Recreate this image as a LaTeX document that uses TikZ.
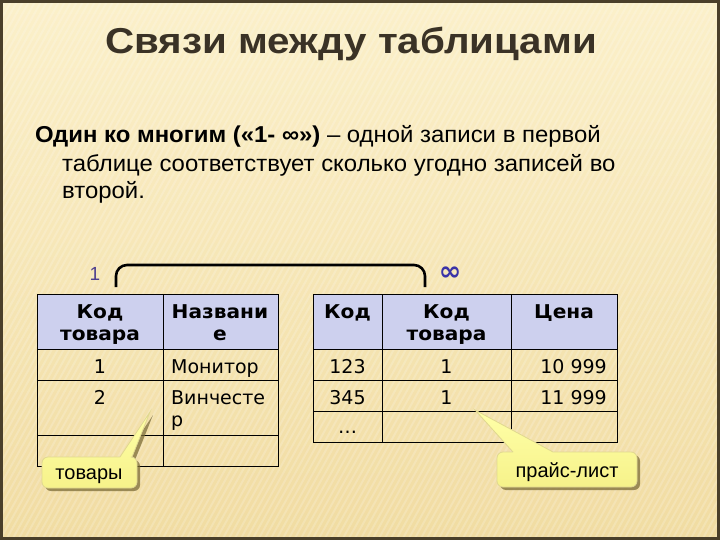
\documentclass[tikz,border=0pt]{standalone}
\usepackage{fontspec}
\setmainfont{Liberation Sans}
\newfontfamily\verd{DejaVu Sans}
\newfontfamily\verdb[FakeStretch=1.06]{DejaVu Sans Bold}
\newfontfamily\titlefont[FakeStretch=1.12]{Liberation Sans Bold}
\newfontfamily\bodyfont[FakeStretch=1.04]{Liberation Sans}
\usetikzlibrary{shadows}
\definecolor{bgtop}{HTML}{FBF0CA}
\definecolor{bgbot}{HTML}{F1DCA2}
\definecolor{frame}{HTML}{4A3F2A}
\definecolor{titlec}{HTML}{3A3226}
\definecolor{hdr}{HTML}{CDD0EE}
\definecolor{callt}{HTML}{FFFFA8}
\definecolor{callb}{HTML}{F6F28A}
\definecolor{callline}{HTML}{E0D890}
\definecolor{callshadow}{HTML}{7D6D38}
\definecolor{onec}{HTML}{4E3F8F}
\definecolor{infc}{HTML}{3A33A8}
\begin{document}
\begin{tikzpicture}[x=1pt,y=-1pt,
  cell/.style={draw=black,line width=1.2pt,inner sep=0pt,anchor=north west},
  hcell/.style={cell,fill=hdr},
  tx/.style={inner sep=0pt,anchor=base,font=\verd\fontsize{19}{22}\selectfont},
  txb/.style={tx,font=\verdb\fontsize{19}{22}\selectfont},
  bodytext/.style={anchor=base west,inner sep=0pt,font=\bodyfont\fontsize{23}{28}\selectfont},
  callout/.style={draw=callline,line width=0.8pt,top color=callt,bottom color=callb,
     drop shadow={shadow xshift=3pt,shadow yshift=-3pt,opacity=0.75,fill=callshadow}},
  calltext/.style={inner sep=0pt,anchor=base,font=\fontsize{20}{24}\selectfont}]
\useasboundingbox (0,0) rectangle (720,540);
\shade[top color=bgtop,bottom color=bgbot] (0,0) rectangle (720,540);
\begin{scope}
\clip (0,0) rectangle (720,540);
\foreach \i in {-300,-294,...,720} {
  \draw[white,opacity=0.18,line width=2pt] (\i,540) -- (\i+300,0);
}
\end{scope}
\draw[frame,line width=3pt] (1.5,1.5) rectangle (718.5,538.5);
% title
\node[anchor=base,inner sep=0pt,text=titlec,font=\titlefont\fontsize{36}{40}\selectfont] (title) at (351,54) {Связи между таблицами};
% body
\node[bodytext] (l1) at (35,143) {\textbf{Один ко многим («1- ∞»)} – одной записи в первой};
\node[bodytext] (l2) at (62,172) {таблице соответствует сколько угодно записей во};
\node[bodytext] (l3) at (62,199) {второй.};
% table 1
\node[hcell,minimum width=126,minimum height=55] (a1) at (37,294) {};
\node[hcell,minimum width=115,minimum height=55] (a2) at (163,294) {};
\node[cell,minimum width=126,minimum height=31] (b1) at (37,349) {};
\node[cell,minimum width=115,minimum height=31] (b2) at (163,349) {};
\node[cell,minimum width=126,minimum height=55] (c1) at (37,380) {};
\node[cell,minimum width=115,minimum height=55] (c2) at (163,380) {};
\node[cell,minimum width=126,minimum height=31] (d1) at (37,435) {};
\node[cell,minimum width=115,minimum height=31] (d2) at (163,435) {};
\node[txb] (ta1) at (100,318) {Код};
\node[txb] (ta1b) at (100,340) {товара};
\node[txb] (ta2) at (220,318) {Названи};
\node[txb] (ta2b) at (220,340) {е};
\node[tx] (tb1) at (100,373) {1};
\node[tx,anchor=base west] (tb2) at (171,373) {Монитор};
\node[tx] (tc1) at (100,404) {2};
\node[tx,anchor=base west] (tc2) at (171,404) {Винчесте};
\node[tx,anchor=base west] (tc2b) at (171,426) {р};
% table 2
\node[hcell,minimum width=69,minimum height=55] (e1) at (313,294) {};
\node[hcell,minimum width=129,minimum height=55] (e2) at (382,294) {};
\node[hcell,minimum width=106,minimum height=55] (e3) at (511,294) {};
\node[cell,minimum width=69,minimum height=31] (f1) at (313,349) {};
\node[cell,minimum width=129,minimum height=31] (f2) at (382,349) {};
\node[cell,minimum width=106,minimum height=31] (f3) at (511,349) {};
\node[cell,minimum width=69,minimum height=31] (g1) at (313,380) {};
\node[cell,minimum width=129,minimum height=31] (g2) at (382,380) {};
\node[cell,minimum width=106,minimum height=31] (g3) at (511,380) {};
\node[cell,minimum width=69,minimum height=31] (h1) at (313,411) {};
\node[cell,minimum width=129,minimum height=31] (h2) at (382,411) {};
\node[cell,minimum width=106,minimum height=31] (h3) at (511,411) {};
\node[txb] (te1) at (347.5,318) {Код};
\node[txb] (te2) at (446.5,318) {Код};
\node[txb] (te2b) at (446.5,340) {товара};
\node[txb] (te3) at (564,318) {Цена};
\node[tx] (tf1) at (347.5,373) {123};
\node[tx] (tf2) at (446.5,373) {1};
\node[tx,anchor=base east] (tf3) at (607,373) {10 999};
\node[tx] (tg1) at (347.5,404) {345};
\node[tx] (tg2) at (446.5,404) {1};
\node[tx,anchor=base east] (tg3) at (607,404) {11 999};
\node[tx] (th1) at (347.5,433) {…};
% bracket
\coordinate (bl) at (116,287);
\coordinate (br) at (425,287);
\draw[line width=2.6pt,rounded corners=11] (bl) -- (116,265) -- (425,265) -- (br);
\node[inner sep=0pt,text=onec,font=\fontsize{19}{22}\selectfont] (one) at (95,274) {1};
\node[inner sep=0pt,text=infc,font=\verd\bfseries\fontsize{27}{30}\selectfont] (inf) at (450,274) {∞};
% callouts
\path[callout] (120,457) -- (150,412) -- (132,457) [rounded corners=6] -- (137,457) -- (137,488) -- (42,488) -- (42,457) -- (120,457);
\node[calltext] (tov) at (89,479) {товары};
\path[callout] (513,452) -- (475,410) -- (553,452) [rounded corners=6] -- (637,452) -- (637,487) -- (497,487) -- (497,452) -- (513,452);
\node[calltext] (price) at (567,477) {прайс-лист};
\end{tikzpicture}
\end{document}
